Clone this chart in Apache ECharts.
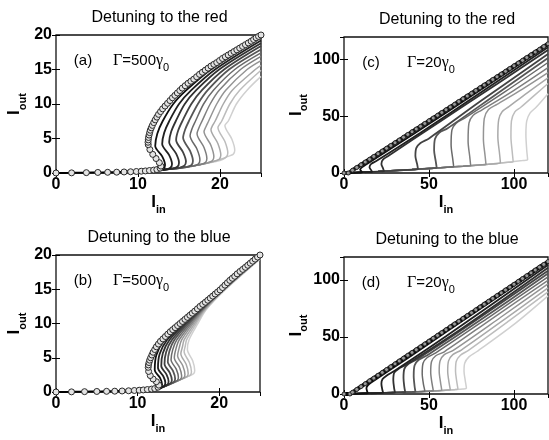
<!DOCTYPE html>
<html>
<head>
<meta charset="utf-8">
<script src="https://cdn.jsdelivr.net/npm/echarts@6/dist/echarts.min.js"></script>
<style>
  html, body { margin: 0; padding: 0; background: #fff; }
  #chart { width: 549px; height: 440px; }
</style>
</head>
<body>
<div id="chart"></div>
<script>
var FONT = "'Liberation Sans', Arial, sans-serif"
var SERIF = "'Liberation Serif', 'DejaVu Serif', serif"

// (a) detuning to the red, Gamma = 500 gamma0   [I_in, I_out]
var aCircle = [[0,0],[1.9,0.02],[3.7,0.05],[5.1,0.08],[6.3,0.1],[7.4,0.12],[8.3,0.15],[9.1,0.18],[9.8,0.22],[10.4,0.26],[10.9,0.3],[11.4,0.36],[11.9,0.42],[12.3,0.5],[12.7,0.7],[12.8,1.0],[12.6,1.5],[12.2,2.1],[11.8,2.7],[11.45,3.4],[11.25,4.1],[11.22,4.45],[11.25,4.8],[11.28,5.15],[11.35,5.5],[11.42,5.85],[11.5,6.2],[11.62,6.55],[11.75,6.9],[11.92,7.3],[12.1,7.7],[12.3,8.1],[12.5,8.5],[12.75,8.9],[13.0,9.3],[13.3,9.7],[13.6,10.1],[13.9,10.5],[14.2,10.9],[14.5,11.25],[14.8,11.6],[15.1,11.95],[15.4,12.3],[15.75,12.65],[16.1,13.0],[16.45,13.3],[16.8,13.6],[17.15,13.95],[17.5,14.3],[17.85,14.6],[18.2,14.9],[18.55,15.2],[18.9,15.5],[19.25,15.75],[19.6,16.0],[19.95,16.3],[20.3,16.6],[20.65,16.85],[21.0,17.1],[21.35,17.35],[21.7,17.6],[22.05,17.85],[22.4,18.1],[22.75,18.35],[23.1,18.6],[23.45,18.85],[23.8,19.1],[24.1,19.35],[24.4,19.6],[24.7,19.8],[25,20]]
var aCurves = [
  [[8,0.15],[11,0.3],[12.4,0.38],[13.1,0.6],[13.3,1.15],[12.95,2.4],[12.1,3.9],[12.35,5.7],[13.0,7.5],[14.3,10],[15.9,12],[18.9,15],[25,19.6]],
  [[8,0.15],[11,0.3],[13.25,0.45],[13.95,0.75],[14.15,1.3],[13.8,2.6],[12.95,4.2],[13.2,5.85],[13.8,7.5],[15.0,10],[16.5,12],[19.4,15],[25,19.2]],
  [[8,0.15],[11,0.3],[14.1,0.6],[14.8,0.9],[15.0,1.5],[14.65,2.8],[13.8,4.5],[14.05,6.0],[14.6,7.5],[15.7,10],[17.1,12],[19.9,15],[25,18.8]],
  [[8,0.15],[11,0.3],[14,0.6],[14.95,0.72],[15.65,1.05],[15.85,1.65],[15.5,3.0],[14.65,4.8],[14.9,6.15],[15.4,7.5],[16.5,10],[17.8,12],[20.5,15],[25,18.4]],
  [[8,0.15],[11,0.3],[14,0.6],[15.8,0.82],[16.5,1.15],[16.7,1.75],[16.35,3.2],[15.5,5.1],[15.75,6.3],[16.2,7.5],[17.3,10],[18.5,12],[21.1,15],[25,17.9]],
  [[8,0.15],[11,0.3],[14,0.6],[16.65,0.97],[17.35,1.3],[17.55,1.9],[17.2,3.45],[16.35,5.4],[16.6,6.45],[17.0,7.5],[18.0,10],[19.2,12],[21.8,15],[25,17.4]],
  [[8,0.15],[11,0.3],[14,0.6],[17,1.1],[17.5,1.17],[18.2,1.5],[18.4,2.1],[18.05,3.7],[17.2,5.7],[17.45,6.6],[17.8,7.5],[18.8,10],[19.9,12],[22.5,15],[25,16.9]],
  [[8,0.15],[11,0.3],[14,0.6],[17,1.1],[18.35,1.42],[19.05,1.75],[19.25,2.35],[18.9,4.0],[18.05,6.0],[18.3,6.75],[18.6,7.5],[19.6,10],[20.7,12],[23.3,15],[25,16.3]],
  [[8,0.15],[11,0.3],[14,0.6],[17,1.1],[19.2,1.67],[19.9,2.0],[20.1,2.6],[19.75,4.25],[18.9,6.3],[19.1,6.9],[19.4,7.5],[20.4,10],[21.5,12],[24.3,15],[25,15.6]],
  [[8,0.15],[11,0.3],[14,0.6],[17,1.1],[20.05,1.97],[20.75,2.3],[20.95,2.9],[20.6,4.55],[19.75,6.6],[19.95,7.05],[20.2,7.5],[21.2,10],[22.4,12],[25,14.9]],
  [[8,0.15],[11,0.3],[14,0.6],[17,1.1],[20,1.8],[20.9,2.37],[21.6,2.7],[21.8,3.3],[21.45,4.9],[20.6,6.9],[21.0,7.5],[22.0,10],[23.3,12],[25,14.0]]
]

// (b) detuning to the blue, Gamma = 500 gamma0
var bCircle = [[0,0],[1.9,0.02],[3.5,0.05],[5,0.08],[6.2,0.1],[7.2,0.12],[8.1,0.15],[8.9,0.18],[9.6,0.22],[10.2,0.26],[10.7,0.3],[11.2,0.36],[11.7,0.42],[12.1,0.5],[12.5,0.7],[12.6,1.0],[12.3,1.5],[11.9,1.9],[11.55,2.4],[11.35,3.0],[11.3,3.6],[11.33,3.95],[11.4,4.3],[11.48,4.65],[11.6,5.0],[11.75,5.4],[11.9,5.8],[12.1,6.2],[12.3,6.6],[12.55,7.0],[12.8,7.4],[13.1,7.75],[13.4,8.1],[13.7,8.45],[14.0,8.8],[14.3,9.1],[14.6,9.4],[14.9,9.7],[15.2,10.0],[15.5,10.3],[15.8,10.6],[16.1,10.9],[16.4,11.2],[16.7,11.5],[17.0,11.8],[17.33,12.15],[17.65,12.5],[17.98,12.8],[18.3,13.1],[18.6,13.4],[18.9,13.7],[19.2,14.0],[19.5,14.3],[19.8,14.6],[20.1,14.9],[20.4,15.25],[20.7,15.6],[21.0,15.95],[21.3,16.3],[21.6,16.6],[21.9,16.9],[22.2,17.25],[22.55,17.6],[22.88,17.9],[23.2,18.2],[23.5,18.5],[23.8,18.8],[24.1,19.1],[24.4,19.4],[24.7,19.7],[25,20]]
var bCurves = [
  [[8,0.15],[11,0.3],[12.4,0.4],[12.85,0.62],[13.0,1.1],[12.75,2.05],[12.1,3.2],[12.3,5.4],[13.3,7.6],[15.4,10],[17.35,12],[20.3,15],[25,19.9]],
  [[8,0.15],[11,0.3],[12.3,0.4],[12.8,0.6],[13.25,0.85],[13.4,1.35],[13.15,2.3],[12.5,3.5],[12.7,5.55],[13.6,7.6],[15.6,10],[17.5,12],[20.35,15],[25,19.85]],
  [[8,0.15],[11,0.3],[12.3,0.4],[13.2,0.8],[13.65,1.05],[13.8,1.55],[13.55,2.55],[12.9,3.8],[13.1,5.7],[13.9,7.6],[15.8,10],[17.6,12],[20.4,15],[25,19.8]],
  [[8,0.15],[11,0.3],[12.3,0.4],[13.6,1.0],[14.05,1.25],[14.2,1.75],[13.95,2.8],[13.3,4.1],[13.5,5.85],[14.2,7.6],[16.0,10],[17.7,12],[20.45,15],[25,19.75]],
  [[8,0.15],[11,0.3],[12.3,0.4],[14.0,1.2],[14.45,1.45],[14.6,1.95],[14.35,3.05],[13.7,4.4],[13.9,6.0],[14.5,7.6],[16.2,10],[17.8,12],[20.5,15],[25,19.7]],
  [[8,0.15],[11,0.3],[12.3,0.4],[14.4,1.4],[14.85,1.65],[15.0,2.15],[14.75,3.3],[14.1,4.7],[14.3,6.15],[14.8,7.6],[16.4,10],[17.9,12],[20.55,15],[25,19.65]],
  [[8,0.15],[11,0.3],[12.3,0.4],[14.8,1.6],[15.25,1.85],[15.4,2.35],[15.15,3.55],[14.5,5.0],[14.7,6.3],[15.1,7.6],[16.6,10],[18.0,12],[20.6,15],[25,19.6]],
  [[8,0.15],[11,0.3],[12.3,0.4],[15.2,1.8],[15.65,2.05],[15.8,2.55],[15.55,3.8],[14.9,5.3],[15.1,6.45],[15.4,7.6],[16.8,10],[18.1,12],[20.65,15],[25,19.55]],
  [[8,0.15],[11,0.3],[12.3,0.4],[15.6,2.0],[16.05,2.25],[16.2,2.75],[15.95,4.05],[15.3,5.6],[15.5,6.6],[15.7,7.6],[17.0,10],[18.2,12],[20.7,15],[25,19.5]],
  [[8,0.15],[11,0.3],[12.3,0.4],[16.0,2.2],[16.45,2.45],[16.6,2.95],[16.35,4.3],[15.7,5.9],[15.85,6.75],[16.0,7.6],[17.2,10],[18.3,12],[20.75,15],[25,19.45]],
  [[8,0.15],[11,0.3],[12.3,0.4],[16.4,2.4],[16.85,2.65],[17.0,3.15],[16.75,4.55],[16.1,6.2],[16.3,7.6],[17.4,10],[18.4,12],[20.8,15],[25,19.4]]
]

// (c) detuning to the red, Gamma = 20 gamma0
var cMain = [[0,0],[2.5,0],[5,2.4],[7.5,4.9],[10,7.3],[12.5,9.7],[15,12.1],[17.5,14.6],[20,17.0],[22.5,19.4],[25,21.8],[27.5,24.3],[30,26.7],[32.5,29.1],[35,31.5],[37.5,34.0],[40,36.4],[42.5,38.8],[45,41.2],[47.5,43.7],[50,46.1],[52.5,48.5],[55,50.9],[57.5,53.4],[60,55.8],[62.5,58.2],[65,60.6],[67.5,63.1],[70,65.5],[72.5,67.9],[75,70.3],[77.5,72.8],[80,75.2],[82.5,77.6],[85,80.0],[87.5,82.5],[90,84.9],[92.5,87.3],[95,89.7],[97.5,92.2],[100,94.6],[102.5,97.0],[105,99.4],[107.5,101.9],[110,104.3],[112.5,106.7],[115,109.1],[117.5,111.6],[120,114.0]]
var cCurves = [
  [[3,0],[8,0.3],[10.5,0.5],[10.2,1.5],[9.5,3],[10.5,5],[13,7.5],[40,33.5],[80,73],[120,113]],
  [[3,0],[14,0.8],[16.5,0.9],[16,2.5],[15,5],[16,8],[19,10.5],[45,35.5],[80,70.5],[120,111]],
  [[3,0],[20,1.3],[23.5,1.5],[23,4],[22,8],[23,12],[26,15],[55,44],[90,78.5],[120,108.5]],
  [[3,0],[20,1.3],[40,3.0],[43.5,3.2],[43,8],[42,15],[42.5,22],[45,26.5],[50,30.5],[80,63],[120,105]],
  [[3,0],[20,1.3],[40,3.0],[52,4.2],[54.5,4.6],[54,10],[53,20],[53.5,30],[56,35.5],[61,39.5],[90,70],[120,101.5]],
  [[3,0],[20,1.3],[40,3.0],[55,4.5],[62,5.2],[64.5,5.6],[64,12],[63,25],[63.5,38],[66,44],[71,48.5],[95,72],[120,97.5]],
  [[3,0],[20,1.3],[40,3.0],[55,4.5],[70,6],[74.5,6.5],[74,14],[73,28],[73.5,44],[76,51],[81,55.5],[100,73],[120,93]],
  [[3,0],[20,1.3],[40,3.0],[55,4.5],[70,6],[81,7.2],[83.5,7.6],[83,15],[82,30],[82.5,48],[85,56],[90,60.5],[105,74],[120,88.5]],
  [[3,0],[20,1.3],[40,3.0],[55,4.5],[70,6],[85,7.8],[92,9],[91.5,17],[90.5,32],[91,47],[93,54],[97,58.5],[108,71],[120,84]],
  [[3,0],[20,1.3],[40,3.0],[55,4.5],[70,6],[85,7.8],[95,9.3],[99.5,10],[99,18],[98.2,32],[98.5,46],[100.5,54],[104,58],[112,68.5],[120,79]],
  [[3,0],[20,1.3],[40,3.0],[55,4.5],[70,6],[85,7.8],[95,9.3],[105,11],[108,11.7],[107.5,20],[107,34],[107.5,46],[109.5,53],[113,58],[120,70]]
]

// (d) detuning to the blue, Gamma = 20 gamma0
var dMain = [[0,0],[3.5,0],[5,1.5],[7.5,4.0],[10,6.5],[12.5,9.0],[15,11.5],[17.5,13.9],[20,16.4],[22.5,18.9],[25,21.4],[27.5,23.9],[30,26.4],[32.5,28.9],[35,31.4],[37.5,33.9],[40,36.4],[42.5,38.8],[45,41.3],[47.5,43.8],[50,46.3],[52.5,48.8],[55,51.3],[57.5,53.8],[60,56.3],[62.5,58.8],[65,61.3],[67.5,63.7],[70,66.2],[72.5,68.7],[75,71.2],[77.5,73.7],[80,76.2],[82.5,78.7],[85,81.2],[87.5,83.7],[90,86.2],[92.5,88.6],[95,91.1],[97.5,93.6],[100,96.1],[102.5,98.6],[105,101.1],[107.5,103.6],[110,106.1],[112.5,108.6],[115,111.1],[117.5,113.5],[120,116.0]]
var dCurves = [
  [[3.5,0],[12,0.5],[14,0.7],[13.6,2.5],[13.2,5],[14,7.5],[16,10],[40,34],[80,74.5],[120,115]],
  [[3.5,0],[20,0.8],[23,1.0],[22.5,4],[22,9],[22.6,13],[25,16],[30,20.5],[60,50.5],[120,113]],
  [[3.5,0],[20,0.8],[28,1.1],[30,1.3],[29.5,5],[29,12],[29.5,18.5],[32,22],[37,26],[70,58],[120,110.5]],
  [[3.5,0],[20,0.8],[34,1.4],[36,1.6],[35.5,6],[35,14],[35.5,22],[38,26.5],[43,30.5],[75,62],[120,108]],
  [[3.5,0],[20,0.8],[40,1.8],[42,2.0],[41.5,7],[41,16],[41.5,25],[44,30],[49,34],[80,64.5],[120,105.5]],
  [[3.5,0],[20,0.8],[40,1.8],[47,2.3],[47.5,2.6],[46.8,8],[46,18],[46.5,27],[49,32],[54,36],[85,67],[120,102.5]],
  [[3.5,0],[20,0.8],[40,1.8],[51,2.6],[52.5,2.9],[51.8,9],[51,19],[51.5,28.5],[54,33.5],[59,37],[88,67],[120,99.5]],
  [[3.5,0],[20,0.8],[40,1.8],[55,2.8],[57.5,3.2],[56.8,10],[56,20],[56.5,29],[59,34.5],[64,38],[92,67],[120,96.5]],
  [[3.5,0],[20,0.8],[40,1.8],[55,2.8],[61,3.4],[62.5,3.7],[61.8,10],[61,20],[61.5,29],[64,34.5],[69,38.5],[95,66],[120,93]],
  [[3.5,0],[20,0.8],[40,1.8],[55,2.8],[65,3.8],[67,4.3],[66.3,11],[65.6,20],[66,28.5],[68.5,34],[73,38],[97,64],[120,89.5]],
  [[3.5,0],[20,0.8],[40,1.8],[55,2.8],[65,3.8],[70,4.4],[72,5],[71.3,12],[70.6,20],[71,27],[73.5,32.5],[78,37],[100,61],[120,86]]
]

// axis ranges, panel order a, c, b, d
var xMax = [25, 120, 25, 120]
var xStep = [10, 50, 10, 50]
var yMax = [20, 120, 20, 120]
var yStep = [5, 50, 5, 50]
var titles = ['Detuning to the red', 'Detuning to the red', 'Detuning to the blue', 'Detuning to the blue']
var tags = ['(a)', '(c)', '(b)', '(d)']
var gammas = ['500', '20', '500', '20']

var shades = ['#101010', '#202020', '#313131', '#434343', '#565656', '#6a6a6a', '#7f7f7f', '#949494', '#a9a9a9', '#bdbdbd', '#d0d0d0']

var grids = [
  {left: 56, top: 35, width: 205, height: 138},
  {left: 344, top: 37, width: 204, height: 136},
  {left: 56, top: 255, width: 204, height: 137},
  {left: 344, top: 257, width: 204, height: 137}
]

var nameRich = {
  i: {fontSize: 17, fontFamily: FONT, fontWeight: 'bold', color: '#000', verticalAlign: 'bottom', padding: [0, 0, 5, 0]},
  s: {fontSize: 11, fontFamily: FONT, fontWeight: 'bold', color: '#000', verticalAlign: 'bottom'}
}
var tickLabel = {color: '#000', fontSize: 16, fontWeight: 'bold', fontFamily: FONT}

var xAxes = []
var yAxes = []
for (var i = 0; i < 4; i++) {
  xAxes.push({
    type: 'value', gridIndex: i, min: 0, max: xMax[i], interval: xStep[i],
    axisLine: {show: false}, splitLine: {show: false},
    axisTick: {inside: true, length: 4, lineStyle: {color: '#000'}},
    axisLabel: Object.assign({margin: 4, showMaxLabel: false}, tickLabel),
    name: '{i|I}{s|in}', nameLocation: 'middle', nameGap: 19,
    nameTextStyle: {rich: nameRich}
  })
  xAxes.push({
    type: 'value', gridIndex: i, position: 'top', min: 0, max: xMax[i], interval: xStep[i],
    axisLine: {show: false}, splitLine: {show: false}, axisLabel: {show: false},
    axisTick: {inside: true, length: 4, lineStyle: {color: '#000'}}
  })
  yAxes.push({
    type: 'value', gridIndex: i, min: 0, max: yMax[i], interval: yStep[i],
    axisLine: {show: false}, splitLine: {show: false},
    axisTick: {inside: true, length: 4, lineStyle: {color: '#000'}},
    axisLabel: Object.assign({margin: 4, showMaxLabel: yMax[i] % yStep[i] === 0}, tickLabel),
    name: '{i|I}{s|out}', nameLocation: 'middle', nameGap: i % 2 ? 34 : 28,
    nameTextStyle: {rich: nameRich}
  })
  yAxes.push({
    type: 'value', gridIndex: i, position: 'right', min: 0, max: yMax[i], interval: yStep[i],
    axisLine: {show: false}, splitLine: {show: false}, axisLabel: {show: false},
    axisTick: {inside: true, length: 4, lineStyle: {color: '#000'}}
  })
}

function fanSeries (curves, axis) {
  var out = []
  for (var k = curves.length - 1; k >= 0; k--) {
    out.push({
      type: 'line', xAxisIndex: axis * 2, yAxisIndex: axis * 2,
      data: curves[k], symbol: 'none', smooth: 0.3, silent: true,
      lineStyle: {color: shades[k], width: k < 5 ? 1.8 : 1.5}
    })
  }
  return out
}

function circleSeries (pts, axis, size, lw, fill) {
  return {
    type: 'line', xAxisIndex: axis * 2, yAxisIndex: axis * 2,
    data: pts, symbol: 'circle', symbolSize: size, showSymbol: true, showAllSymbol: true,
    smooth: 0.3, silent: true,
    lineStyle: {color: '#000', width: lw},
    itemStyle: {color: fill, borderColor: '#2a2a2a', borderWidth: 1}
  }
}

var series = [].concat(
  fanSeries(aCurves, 0), [circleSeries(aCircle, 0, 6, 2, '#e4e4e4')],
  fanSeries(cCurves, 1), [circleSeries(cMain, 1, 4, 4, '#9a9a9a')],
  fanSeries(bCurves, 2), [circleSeries(bCircle, 2, 6, 2, '#e4e4e4')],
  fanSeries(dCurves, 3), [circleSeries(dMain, 3, 4, 4, '#9a9a9a')]
)

var graphics = []
var gammaRich = {
  g: {fontSize: 16, fontFamily: SERIF, color: '#000', verticalAlign: 'bottom', padding: [0, 0, 5, 0]},
  m: {fontSize: 15, fontFamily: FONT, color: '#000', verticalAlign: 'bottom', padding: [0, 0, 5, 0]},
  s: {fontSize: 11, fontFamily: FONT, color: '#000', verticalAlign: 'bottom'}
}
for (var j = 0; j < 4; j++) {
  var g = grids[j]
  graphics.push({
    type: 'text', x: g.left + g.width / 2 + 1, y: g.top - 17,
    style: {text: titles[j], fontSize: 16, fontFamily: FONT, fill: '#000', align: 'center', verticalAlign: 'middle'}
  })
  graphics.push({
    type: 'text', x: g.left + 27, y: g.top + 26,
    style: {text: tags[j], fontSize: 15, fontFamily: FONT, fill: '#000', align: 'center', verticalAlign: 'middle'}
  })
  graphics.push({
    type: 'text', x: g.left + (j % 2 ? 63 : 57), y: g.top + 28,
    style: {text: '{g|Γ}{m|=' + gammas[j] + '}{g|γ}{s|0}', rich: gammaRich, align: 'left', verticalAlign: 'middle'}
  })
}

var chart = echarts.init(document.getElementById('chart'))
chart.setOption({
  animation: false,
  backgroundColor: '#fff',
  grid: grids.map(function (g) {
    return Object.assign({show: true, borderColor: '#111', borderWidth: 1.3, backgroundColor: 'transparent'}, g)
  }),
  xAxis: xAxes,
  yAxis: yAxes,
  series: series,
  graphic: graphics
})
</script>
</body>
</html>
